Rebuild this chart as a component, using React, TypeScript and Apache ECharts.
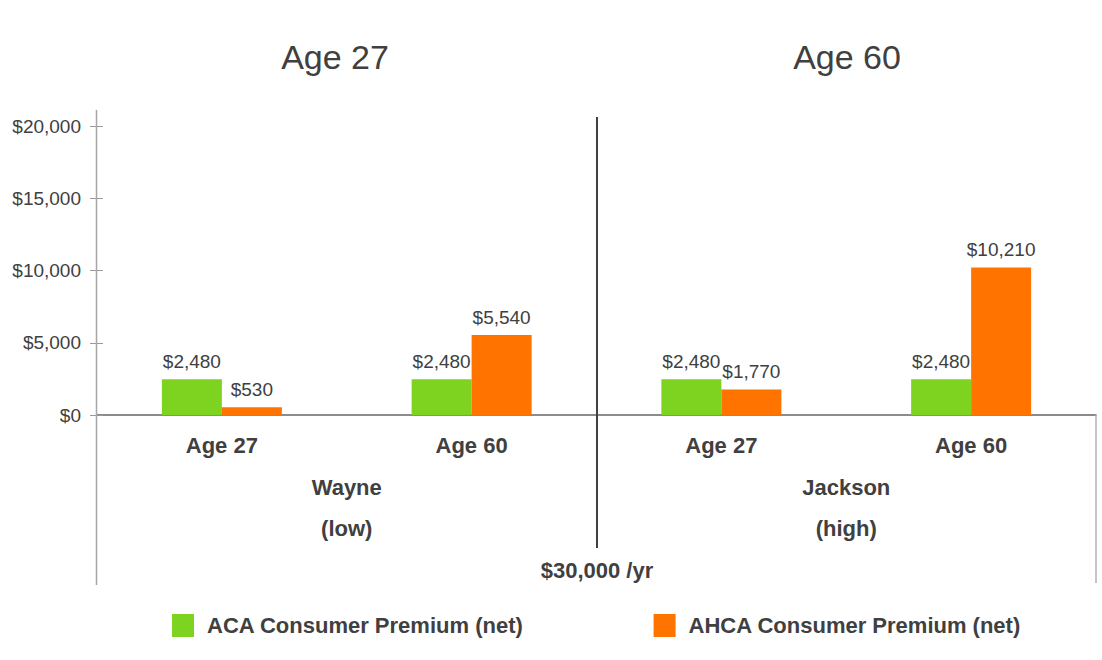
import React, { useEffect, useRef } from "react";
import * as echarts from "echarts";

const categories = ["Age 27", "Age 60", "Age 27", "Age 60"];
const groups = ["Wayne\n(low)", "Jackson\n(high)"];
const acaValues = [2480, 2480, 2480, 2480];
const ahcaValues = [530, 5540, 1770, 10210];
const seriesNames = ["ACA Consumer Premium (net)", "AHCA Consumer Premium (net)"];
const panelTitles = ["Age 27", "Age 60"];
const incomeLabel = "$30,000 /yr";

const FONT = "'Liberation Sans', Arial, sans-serif";
const TXT = "#404040";

const fmt = (v: number) => "$" + v.toLocaleString("en-US");

export default function App() {
  const ref = useRef<HTMLDivElement>(null);
  useEffect(() => {
    if (!ref.current) return;
    const chart = echarts.init(ref.current, null, { renderer: "svg" });
    const labelCfg = {
      show: true,
      position: "top" as const,
      distance: 8,
      fontSize: 19,
      color: TXT,
      fontFamily: FONT,
      formatter: (p: any) => fmt(p.value),
    };
    chart.setOption({
      animation: false,
      backgroundColor: "#ffffff",
      textStyle: { fontFamily: FONT },
      grid: { left: 97, right: 6, top: 126, height: 289, containLabel: false },
      legend: {
        left: 172,
        top: 614,
        padding: 0,
        itemWidth: 22,
        itemHeight: 23,
        itemGap: 130,
        icon: "rect",
        textStyle: { fontSize: 22, fontWeight: "bold", color: TXT, fontFamily: FONT, padding: [0, 0, 0, 8] },
        data: seriesNames,
      },
      xAxis: [
        {
          type: "category",
          data: categories,
          position: "bottom",
          axisLine: { show: true, lineStyle: { color: "#666666", width: 1.5 } },
          axisTick: { show: false },
          axisLabel: { fontSize: 22, fontWeight: "bold", color: TXT, margin: 19, fontFamily: FONT },
        },
        {
          type: "category",
          data: groups,
          position: "bottom",
          gridIndex: 0,
          axisLine: { show: false },
          axisTick: { show: false },
          axisLabel: { fontSize: 22, fontWeight: "bold", color: TXT, margin: 52, lineHeight: 41, fontFamily: FONT },
        },
      ],
      yAxis: [
        {
          type: "value",
          min: 0,
          max: 20000,
          interval: 5000,
          axisLine: { show: false },
          axisTick: { show: true, length: 7, lineStyle: { color: "#999999" } },
          splitLine: { show: false },
          axisLabel: { fontSize: 19, color: TXT, margin: 16, fontFamily: FONT, formatter: (v: number) => fmt(v) },
        },
        {
          type: "value",
          min: 0,
          max: 20000,
          interval: 5000,
          position: "left",
          axisLine: { show: false },
          axisTick: { show: true, inside: true, length: 6, lineStyle: { color: "#999999" } },
          splitLine: { show: false },
          axisLabel: { show: false },
        },
      ],
      series: [
        {
          name: seriesNames[0],
          type: "bar",
          data: acaValues,
          barWidth: 60,
          barGap: "0%",
          itemStyle: { color: "#7ED321" },
          label: labelCfg,
        },
        {
          name: seriesNames[1],
          type: "bar",
          data: ahcaValues,
          barWidth: 60,
          barGap: "0%",
          itemStyle: { color: "#FF7300" },
          label: labelCfg,
        },
      ],
      graphic: [
        { type: "line", shape: { x1: 96.5, y1: 110, x2: 96.5, y2: 585 }, style: { stroke: "#a6a6a6", lineWidth: 1.5 }, z: 5 },
        { type: "line", shape: { x1: 1096, y1: 415, x2: 1096, y2: 583 }, style: { stroke: "#b0b0b0", lineWidth: 1.5 }, z: 5 },
        { type: "line", shape: { x1: 597, y1: 117, x2: 597, y2: 548 }, style: { stroke: "#404040", lineWidth: 2 }, z: 5 },
        { type: "text", x: 335, y: 57, style: { text: panelTitles[0], fontSize: 34, fill: TXT, fontFamily: FONT, textAlign: "center", textVerticalAlign: "middle" } },
        { type: "text", x: 847, y: 57, style: { text: panelTitles[1], fontSize: 34, fill: TXT, fontFamily: FONT, textAlign: "center", textVerticalAlign: "middle" } },
        { type: "text", x: 597, y: 570, style: { text: incomeLabel, fontSize: 22, fontWeight: "bold", fill: TXT, fontFamily: FONT, textAlign: "center", textVerticalAlign: "middle" } },
      ],
    });
    return () => chart.dispose();
  }, []);
  return <div ref={ref} style={{ width: 1102, height: 660, position: "absolute", left: 0, top: 0 }} />;
}
